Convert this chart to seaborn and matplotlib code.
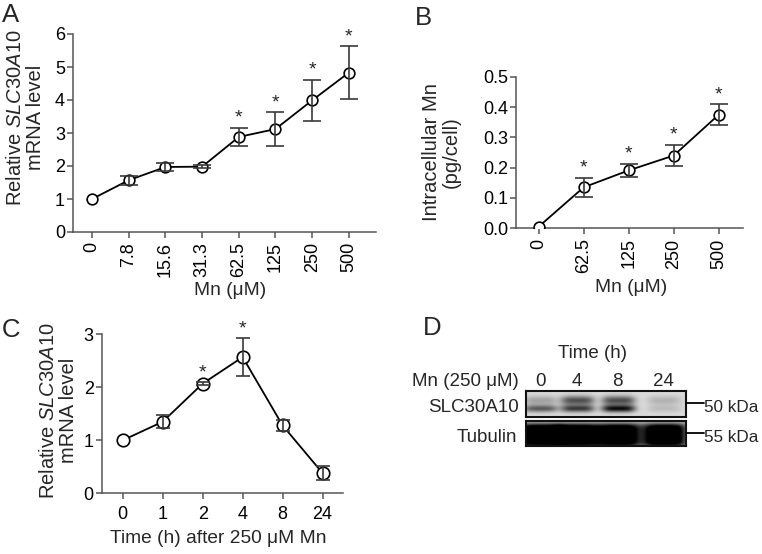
import numpy as np
import pandas as pd
import matplotlib
matplotlib.use("Agg")
import matplotlib.pyplot as plt
from matplotlib.lines import Line2D
import seaborn as sns

# ---------------- data ----------------
a_labels = ["0", "7.8", "15.6", "31.3", "62.5", "125", "250", "500"]
a_mean = [1.0, 1.57, 1.97, 1.98, 2.88, 3.12, 3.99, 4.83]
a_err = [0.0, 0.14, 0.13, 0.05, 0.28, 0.51, 0.62, 0.80]
a_sig = [False, False, False, False, True, True, True, True]

b_labels = ["0", "62.5", "125", "250", "500"]
b_mean = [0.005, 0.135, 0.191, 0.240, 0.375]
b_err = [0.0, 0.032, 0.022, 0.036, 0.035]
b_sig = [False, True, True, True, True]

c_labels = ["0", "1", "2", "4", "8", "24"]
c_mean = [1.0, 1.35, 2.07, 2.57, 1.28, 0.38]
c_err = [0.0, 0.12, 0.03, 0.36, 0.11, 0.13]
c_sig = [False, False, True, True, False, False]

d_lanes = ["0", "4", "8", "24"]
d_slc_upper = [0.22, 0.55, 0.55, 0.16]
d_slc_lower = [0.50, 0.62, 0.80, 0.12]
d_tubulin = [0.97, 0.97, 0.97, 0.97]

# ---------------- style ----------------
sns.set_theme(style="ticks")
plt.rcParams["font.family"] = ["Liberation Sans", "DejaVu Sans"]
plt.rcParams["mathtext.fontset"] = "custom"
plt.rcParams["mathtext.rm"] = "Liberation Sans"
plt.rcParams["mathtext.it"] = "Liberation Sans:italic"
plt.rcParams["mathtext.bf"] = "Liberation Sans:bold"

W, H = 762, 554
fig = plt.figure(figsize=(W / 100, H / 100), dpi=100)

SPINE = "#555555"
TICK_FS = 13
XL_FS = 13.8
YL_FS = 14.5


def rect(l, t, r, b):
    return [l / W, 1 - b / H, (r - l) / W, (b - t) / H]


def P(x, y):
    return x / W, 1 - y / H


def panel(ax, labels, mean, err, sig, ms, cap, xlim, ylim, yticks, yfmt, rot):
    n = len(labels)
    df = pd.DataFrame({"pos": np.arange(n), "val": mean, "err": err})
    sns.lineplot(data=df, x="pos", y="val", ax=ax, color="black", linewidth=1.3,
                 marker="o", markersize=ms, markerfacecolor="white",
                 markeredgecolor="black", markeredgewidth=1.2, zorder=3)
    e = df[df.err > 0]
    ax.errorbar(e.pos, e.val, yerr=e.err, fmt="none", ecolor="#3a3a3a",
                elinewidth=1.2, capsize=cap, capthick=1.2, zorder=4)
    for i in range(n):
        if sig[i]:
            ax.annotate("*", (i, mean[i] + err[i]), xytext=(0, 3.6),
                        textcoords="offset points", ha="center", va="baseline",
                        fontsize=14, annotation_clip=False)
    ax.set_xlim(*xlim)
    ax.set_ylim(*ylim)
    ax.set_xticks(np.arange(n))
    ax.set_xticklabels(labels, rotation=rot)
    ax.set_yticks(yticks)
    ax.set_yticklabels([yfmt.format(v) for v in yticks])
    sns.despine(ax=ax)
    for s in ("left", "bottom"):
        ax.spines[s].set_color(SPINE)
        ax.spines[s].set_linewidth(1.1)
    ax.tick_params(axis="both", direction="out", length=4.3, width=1.1,
                   color=SPINE, labelsize=TICK_FS, labelcolor="black")
    ax.tick_params(axis="y", pad=1.5)
    ax.set_xlabel("")
    ax.set_ylabel("")


# ---------------- Panel A ----------------
axA = fig.add_axes(rect(73, 34, 376, 232))
panel(axA, a_labels, a_mean, a_err, a_sig, 7.7, 6.5, (-0.52, 7.74), (0, 6),
      [0, 1, 2, 3, 4, 5, 6], "{:g}", 90)
axA.tick_params(axis="x", pad=3)
axA.set_ylabel("Relative $\\mathit{SLC30A10}$\nmRNA level", fontsize=YL_FS, linespacing=1.05)
axA.yaxis.set_label_coords(-0.092, 0.58)
axA.set_xlabel("Mn (\u03bcM)", fontsize=XL_FS)
axA.xaxis.set_label_coords(0.518, -0.255)
axA.xaxis.label.set_va("top")

# ---------------- Panel B ----------------
axB = fig.add_axes(rect(516, 76.7, 742.7, 228.3))
panel(axB, b_labels, b_mean, b_err, b_sig, 7.7, 6.5, (-0.5, 4.53), (0, 0.5),
      [0, 0.1, 0.2, 0.3, 0.4, 0.5], "{:.1f}", 90)
axB.tick_params(axis="x", pad=3)
axB.set_ylabel("Intracellular Mn\n(pg/cell)", fontsize=YL_FS, linespacing=1.05)
axB.yaxis.set_label_coords(-0.243, 0.50)
axB.set_xlabel("Mn (\u03bcM)", fontsize=XL_FS)
axB.xaxis.set_label_coords(0.51, -0.336)
axB.xaxis.label.set_va("top")

# ---------------- Panel C ----------------
axC = fig.add_axes(rect(101.7, 334.3, 343, 493.3))
panel(axC, c_labels, c_mean, c_err, c_sig, 9, 5, (-0.525, 5.51), (0, 3),
      [0, 1, 2, 3], "{:g}", 0)
axC.tick_params(axis="x", pad=5)
axC.set_ylabel("Relative $\\mathit{SLC30A10}$\nmRNA level", fontsize=YL_FS, linespacing=1.05)
axC.yaxis.set_label_coords(-0.10, 0.52)
axC.set_xlabel("Time (h) after 250 \u03bcM Mn", fontsize=XL_FS)
axC.xaxis.set_label_coords(0.482, -0.232)
axC.xaxis.label.set_va("top")

# ---------------- Panel D (blot) ----------------
lane_x = [0.09, 0.32, 0.575, 0.86]
gx = np.linspace(0, 1, 240)
gy = np.linspace(0, 1, 60)
X, Y = np.meshgrid(gx, gy)


def lane(x0, wx):
    return np.exp(-((X - x0) / wx) ** 4)


slc = np.full_like(X, 0.86)
for i in range(len(d_lanes)):
    L = lane(lane_x[i], 0.105)
    slc -= d_slc_upper[i] * L * np.exp(-((Y - 0.36) / 0.18) ** 2)
    slc -= d_slc_lower[i] * L * np.exp(-((Y - 0.68) / 0.14) ** 2)
slc = np.clip(slc, 0, 1)

tub = np.full_like(X, 0.70)
for i in range(len(d_lanes)):
    L = lane(lane_x[i], 0.135)
    tub -= d_tubulin[i] * L * np.exp(-((Y - 0.58) / 0.44) ** 6)
tub = np.clip(tub, 0, 1)

for img, (t, b) in ((slc, (390.7, 416.7)), (tub, (420.5, 446))):
    axb = fig.add_axes(rect(525.7, t, 686, b))
    axb.imshow(img, cmap="gray", vmin=0, vmax=1, aspect="auto",
               extent=[0, 1, 1, 0], interpolation="bilinear")
    axb.set_xticks([])
    axb.set_yticks([])
    for s in axb.spines.values():
        s.set_visible(True)
        s.set_color("#111111")
        s.set_linewidth(1.5)

fs = 13.5
fig.text(*P(593, 358), "Time (h)", ha="center", va="baseline", fontsize=fs)
fig.text(*P(519, 386), "Mn (250 \u03bcM)", ha="right", va="baseline", fontsize=fs)
for i, lab in enumerate(d_lanes):
    fig.text(*P(525.7 + 160.3 * lane_x[i], 386), lab, ha="center", va="baseline", fontsize=fs)
fig.text(*P(519, 412), "SLC30A10", ha="right", va="baseline", fontsize=fs)
fig.text(*P(517, 442), "Tubulin", ha="right", va="baseline", fontsize=fs)
for yline, ytxt, txt in ((402.5, 412, "50 kDa"), (433, 442, "55 kDa")):
    x1, y1 = P(686, yline)
    x2, _ = P(704, yline)
    fig.add_artist(Line2D([x1, x2], [y1, y1], transform=fig.transFigure,
                          color="black", linewidth=1.3))
    fig.text(*P(704, ytxt), txt, ha="left", va="baseline", fontsize=12.3)

# ---------------- panel letters ----------------
for lab, (x, y) in (("A", (2, 22)), ("B", (415, 25)), ("C", (2, 337)), ("D", (423, 335))):
    fig.text(*P(x, y), lab, ha="left", va="baseline", fontsize=18.5)

fig.savefig("out.png", dpi=100)
